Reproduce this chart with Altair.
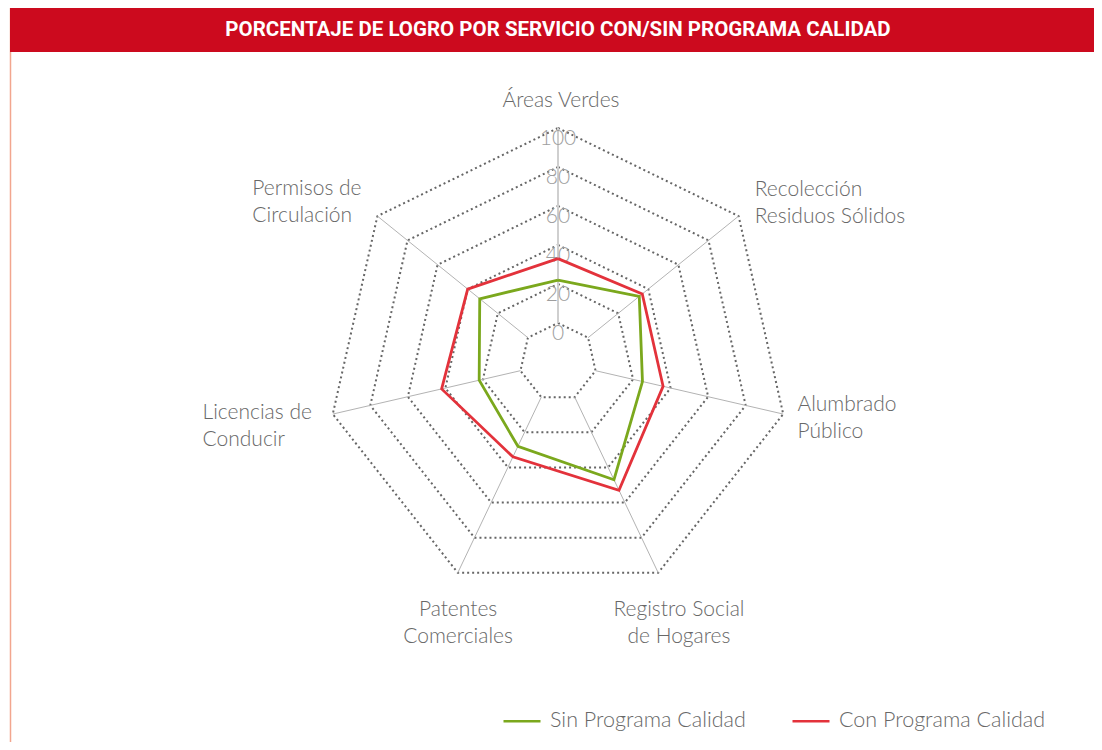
import altair as alt
import pandas as pd

TITLE = "PORCENTAJE DE LOGRO POR SERVICIO CON/SIN PROGRAMA CALIDAD"
CATEGORIES = [
    "Áreas Verdes",
    "Recolección\nResiduos Sólidos",
    "Alumbrado\nPúblico",
    "Registro Social\nde Hogares",
    "Patentes\nComerciales",
    "Licencias de\nConducir",
    "Permisos de\nCirculación",
]
SERIES = ["Sin Programa Calidad", "Con Programa Calidad"]
SIN = [22, 34, 25, 47, 28, 22, 32]
CON = [33, 36, 36, 53, 34, 42, 40]
TICKS = [0, 20, 40, 60, 80, 100]
COLORS = ["#7BA81D", "#E3323B"]

N = len(CATEGORIES)
W, H = 1086, 734
CX, CY = 550, 354      # plot-area pixel centre
RX, RY = 231, 234      # pixels per unit radius
LABEL_VALUE = 114
FONT = "Lato"

rows = []
for s, vals in zip(SERIES, [SIN, CON]):
    for i in range(N + 1):
        rows.append({"series": s, "idx": i, "value": vals[i % N]})
series_df = pd.DataFrame(rows)
ring_df = pd.DataFrame([{"ring": t, "idx": i, "value": t} for t in TICKS for i in range(N + 1)])
spoke_df = pd.DataFrame([{"idx": i, "value": v} for i in range(N) for v in (TICKS[0], TICKS[-1])])
tick_df = pd.DataFrame({"idx": [0] * len(TICKS), "value": TICKS, "label": [str(t) for t in TICKS]})
cat_df = pd.DataFrame({"idx": list(range(N)), "label": CATEGORIES, "value": [LABEL_VALUE] * N})
one = pd.DataFrame({"t": [TITLE]})

xscale = alt.Scale(domain=[-CX / RX, (W - CX) / RX], nice=False, zero=False)
yscale = alt.Scale(domain=[-(H - CY) / RY, CY / RY], nice=False, zero=False)
X = alt.X("px:Q", scale=xscale, axis=None)
Y = alt.Y("py:Q", scale=yscale, axis=None)


def polar(ch):
    return ch.transform_calculate(
        theta=f"datum.idx * 2 * PI / {N}",
        rho="(datum.value + 20) / 120",
    ).transform_calculate(
        px="datum.rho * sin(datum.theta)",
        py="datum.rho * cos(datum.theta)",
    )


rings = polar(alt.Chart(ring_df).mark_line(
    strokeDash=[2, 3], strokeWidth=2, color="#666666"
)).encode(x=X, y=Y, detail="ring:N", order="idx:Q")

spokes = polar(alt.Chart(spoke_df).mark_line(color="#b3b3b3", strokeWidth=1)).transform_filter(
    "datum.idx != 0"
).encode(x=X, y=Y, detail="idx:N", order="value:Q")

top_axis = polar(alt.Chart(spoke_df).mark_line(color="#cfcfcf", strokeWidth=2)).transform_filter(
    "datum.idx == 0"
).encode(x=X, y=Y, order="value:Q")

tick_labels = polar(alt.Chart(tick_df).mark_text(
    font=FONT, fontWeight=300, fontSize=21, color="#9e9e9e", dy=11,
    baseline="middle", align="center"
)).encode(x=X, y=Y, text="label:N")

styles = {
    0: dict(align="center", dx=3, dy=0),
    1: dict(align="left", dx=-5, dy=-9),
    2: dict(align="left", dx=-12, dy=-15),
    3: dict(align="center", dx=9, dy=13),
    4: dict(align="center", dx=12, dy=13),
    5: dict(align="left", dx=-104, dy=-7),
    6: dict(align="left", dx=-104, dy=-10),
}
cat_layers = []
for i, st in styles.items():
    cat_layers.append(
        polar(alt.Chart(cat_df).mark_text(
            font=FONT, fontWeight=300, fontSize=21, color="#686868", baseline="middle",
            lineBreak="\n", lineHeight=27, **st
        )).transform_filter(f"datum.idx == {i}").encode(x=X, y=Y, text="label:N")
    )

lines = polar(alt.Chart(series_df).mark_line(strokeWidth=2.8)).encode(
    x=X, y=Y, order="idx:Q",
    color=alt.Color(
        "series:N",
        scale=alt.Scale(domain=SERIES, range=COLORS),
        legend=alt.Legend(
            title=None, orient="none", legendX=494, legendY=693, direction="horizontal",
            symbolType="stroke", symbolSize=1369, symbolStrokeWidth=2.5,
            labelFont=FONT, labelFontWeight=300, labelFontSize=21.5, labelColor="#686868",
            columnPadding=41, labelOffset=8, padding=0, labelLimit=400,
        ),
    ),
)

band = alt.Chart(one).mark_rect(color="#CC0A1E").encode(
    x=alt.value(2), x2=alt.value(W), y=alt.value(0), y2=alt.value(44)
)
title_text = alt.Chart(one).mark_text(
    font="Roboto", fontWeight="bold", fontSize=20.5, color="white",
    align="center", baseline="middle"
).encode(x=alt.value(550), y=alt.value(22), text="t:N")
border = alt.Chart(one).mark_rule(color="#F2A68E", strokeWidth=1.5).encode(
    x=alt.value(2.5), y=alt.value(0), y2=alt.value(H)
)

chart = alt.layer(
    border, band, title_text, rings, spokes, top_axis, tick_labels, *cat_layers, lines
).properties(
    width=W, height=H, autosize=alt.AutoSizeParams(type="none"), padding=0
).configure_view(strokeOpacity=0)

chart.save("out.html", embed_options={"renderer": "svg", "actions": False})
